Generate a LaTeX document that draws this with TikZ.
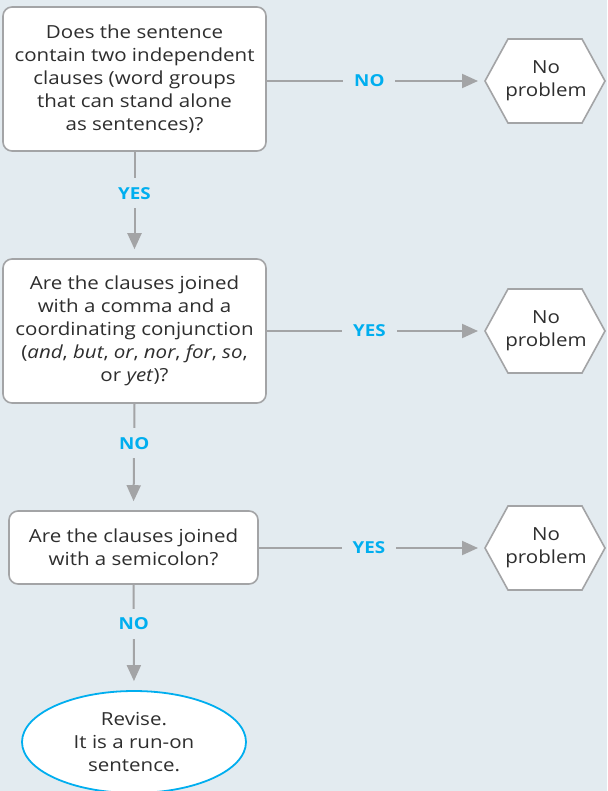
\documentclass[tikz,border=0pt]{standalone}
\usepackage{fontspec}
\setmainfont{Open Sans}[FakeStretch=1.14]
\usetikzlibrary{arrows.meta,calc,shapes.geometric}
\definecolor{bg}{HTML}{E3EBF0}
\definecolor{edge}{HTML}{A3A4A6}
\definecolor{ink}{HTML}{2E2E2E}
\definecolor{cyanlab}{HTML}{00AEEF}
\tikzset{
  qbox/.style={draw=edge, line width=1.6pt, fill=white, rounded corners=9pt, align=center,
    text=ink, font=\fontsize{18}{23}\selectfont, inner sep=0pt},
  hexnode/.style={align=center, text=ink, font=\fontsize{18}{23}\selectfont, inner sep=0pt},
  hexline/.style={draw=edge, line width=1.6pt, fill=white},
  endnode/.style={ellipse, draw=cyanlab, line width=1.8pt, fill=white, align=center, text=ink,
    font=\fontsize{18}{23}\selectfont, minimum width=224pt, minimum height=102pt, inner sep=0pt},
  arr/.style={draw=edge, line width=2pt, -{Triangle[length=16pt,width=14pt]}},
  lab/.style={fill=bg, text=cyanlab, font=\fontsize{16.5}{18}\bfseries\selectfont, inner xsep=11pt, inner ysep=9pt}
}
\begin{document}
\begin{tikzpicture}[x=1pt,y=-1pt]
\fill[bg] (0,0) rectangle (607,791);
\useasboundingbox (0,0) rectangle (607,791);

% question boxes
\node[qbox, minimum width=263pt, minimum height=144pt] (b1) at (134.5,79)
  {Does the sentence\\contain two independent\\clauses (word groups\\that can stand alone\\as sentences)?};
\node[qbox, minimum width=263pt, minimum height=144pt] (b2) at (134.5,331)
  {Are the clauses joined\\with a comma and a\\coordinating conjunction\\(\textit{and}, \textit{but}, \textit{or}, \textit{nor}, \textit{for}, \textit{so},\\or \textit{yet})?};
\node[qbox, minimum width=249pt, minimum height=73pt] (b3) at (133.5,547.5)
  {Are the clauses joined\\with a semicolon?};

% end ellipse
\node[endnode] (e) at (134,742) {Revise.\\It is a run-on\\sentence.};

% hexagons
\foreach \n/\yy in {h1/81, h2/331, h3/548}{
  \draw[hexline] (485,\yy) -- ++(23,-42) -- ++(74,0) -- ++(23,42) -- ++(-23,42) -- ++(-74,0) -- cycle;
  \node[hexnode] (\n) at (546,\yy) {No\\problem};
  \coordinate (\n w) at (485,\yy);
}

% horizontal connectors
\draw[arr, shorten >=7pt] (b1.east |- h1w) -- node[lab, pos=0.47]{NO} (h1w);
\draw[arr, shorten >=7pt] (b2.east) -- node[lab, pos=0.47]{YES} (h2w);
\draw[arr, shorten >=7pt] (b3.east |- h3w) -- node[lab, pos=0.487]{YES} (h3w);

% vertical connectors
\draw[arr, shorten >=9pt] (b1.south) -- node[lab, pos=0.39]{YES} (b2.north);
\draw[arr, shorten >=9pt] (b2.south) -- node[lab, pos=0.37]{NO} (b3.north);
\draw[arr, shorten >=9pt] (b3.south) -- node[lab, pos=0.37]{NO} (e.north);
\end{tikzpicture}
\end{document}
